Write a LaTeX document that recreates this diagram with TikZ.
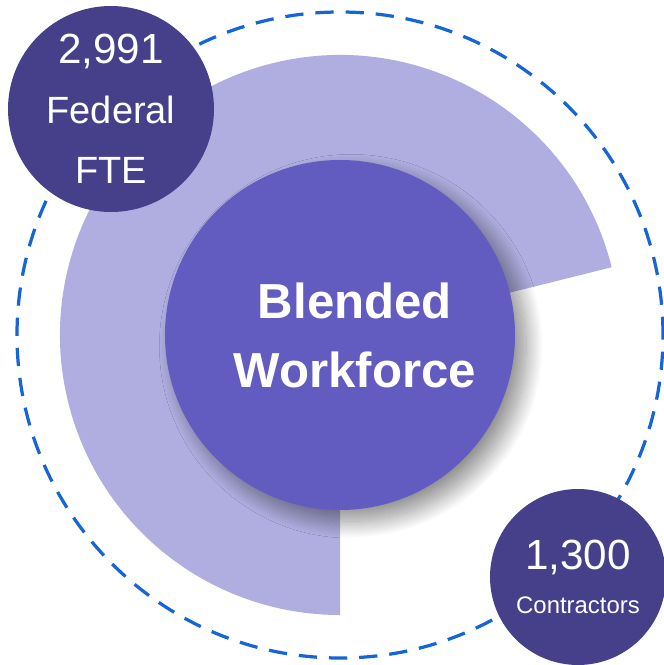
\documentclass[tikz,border=0pt]{standalone}
\usepackage{fontspec}
\setmainfont{Liberation Sans}
\usetikzlibrary{shadows.blur}

\definecolor{dashblue}{HTML}{1565D8}
\definecolor{ringlilac}{HTML}{B0AEE0}
\definecolor{corepurple}{HTML}{625BC0}
\definecolor{statpurple}{HTML}{46408A}

\tikzset{
  stat/.style={circle, fill=statpurple, text=white, align=center, inner sep=0pt},
}

\begin{document}
\begin{tikzpicture}

    \useasboundingbox (-8.5,-8.25) rectangle (8.1,8.375);

    % Draw Orbit
    \draw[dashblue, line width=2.3pt, dash pattern=on 13pt off 8.5pt] (0,0) circle (8.075cm);

    % Draw Ring
    \fill[ringlilac] (0,0) -- (14:7) arc (14:270:7) -- cycle;     % Ring Sector

    % Draw Core
    \node[circle, fill=corepurple, minimum size=8.75cm, inner sep=0pt,
          blur shadow={shadow xshift=8pt, shadow yshift=-8pt, shadow blur radius=12pt,
                       shadow blur steps=30, shadow opacity=45}]
          (core) at (0,0) {};
    \node[text=white, align=center, font=\bfseries\fontsize{35}{49}\selectfont]
          (corelabel) at (0.375,0) {Blended\\Workforce};

    % Draw Stat Bubbles
    \node[stat, minimum size=5.15cm, font=\fontsize{27}{42.5}\selectfont] (federal) at (-5.725,5.65)
          {{\fontsize{30}{42.5}\selectfont 2,991}\\Federal\\FTE};
    \node[stat, minimum size=4.4cm, font=\fontsize{17}{31}\selectfont] (contract) at (5.95,-6.05)
          {{\fontsize{30}{31}\selectfont 1,300}\\Contractors};

\end{tikzpicture}
\end{document}
